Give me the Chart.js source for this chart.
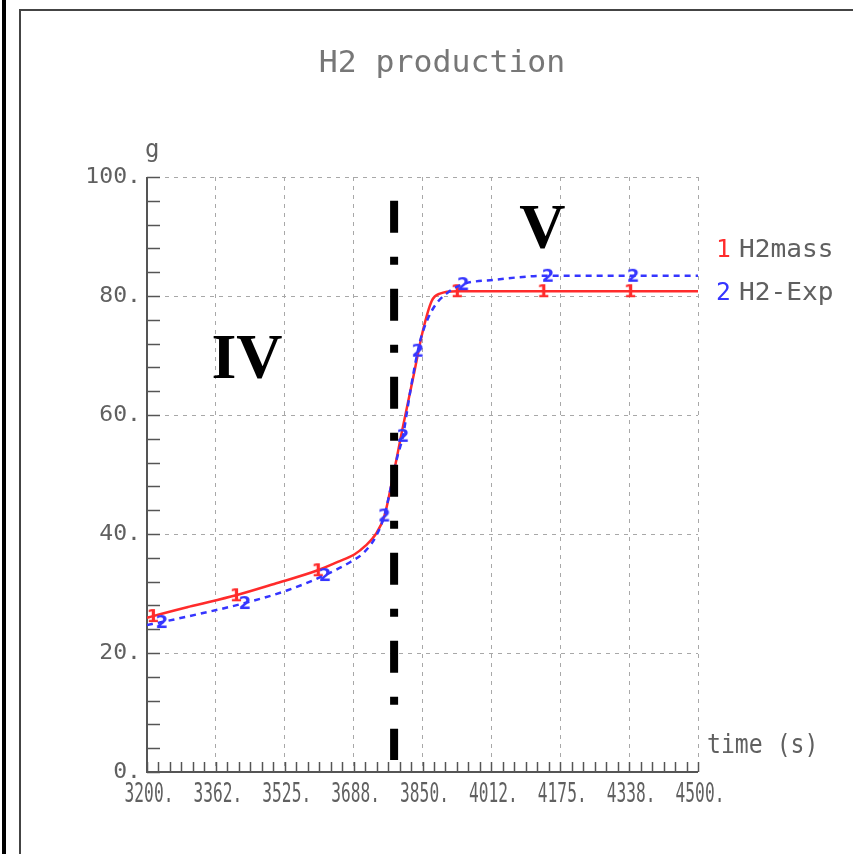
<!DOCTYPE html>
<html>
<head>
<meta charset="utf-8">
<script src="https://cdn.jsdelivr.net/npm/chart.js@4/dist/chart.umd.min.js"></script>
<style>
html,body{margin:0;padding:0;background:#fff;}
#wrap{width:853px;height:854px;position:relative;}
</style>
</head>
<body>
<div id="wrap"><canvas id="c" width="853" height="854"></canvas></div>
<script>
// ---- data ----
const chartTitle = "H2 production";
const yUnit = "g";
const xAxisLabel = "time (s)";
const seriesNames = ["H2mass", "H2-Exp"];
const seriesMarks = ["1", "2"];

const xTickLabels = ["3200.", "3362.", "3525.", "3688.", "3850.", "4012.", "4175.", "4338.", "4500."];
const yTickLabels = ["0.", "20.", "40.", "60.", "80.", "100."];

// H2mass (red, solid)
const massTime  = [3200, 3214, 3300, 3410, 3500, 3603, 3650, 3690, 3715, 3740, 3760, 3780, 3802, 3828, 3851, 3872, 3891, 3931, 4000, 4135, 4340, 4500];
const massValue = [25.9, 26.2, 27.8, 29.7, 31.6, 33.9, 35.3, 36.6, 38.0, 40.0, 43.0, 49.5, 57.4, 66.3, 74.2, 79.2, 80.4, 80.8, 80.8, 80.8, 80.8, 80.8];
const massMarkIdx = [1, 3, 5, 17, 19, 20];

// H2-Exp (blue, dashed)
const expTime  = [3200, 3235, 3300, 3431, 3530, 3620, 3680, 3712, 3740, 3760, 3790, 3804, 3820, 3839, 3849, 3875, 3910, 3946, 4016, 4146, 4347, 4500];
const expValue = [24.7, 25.2, 26.2, 28.4, 30.5, 33.1, 35.3, 36.9, 39.6, 43.1, 52.8, 56.5, 63.5, 70.8, 73.6, 77.9, 80.6, 82.0, 82.7, 83.4, 83.4, 83.4];
const expMarkIdx = [1, 3, 5, 9, 11, 13, 17, 19, 20];

// phase boundary and phase labels
const boundaryTime = [3783, 3783];
const boundaryValue = [96, 2];
const phaseNames = ["IV", "V"];
const phaseTime = [3436, 4133];
const phaseValue = [66.3, 88.1];

// ---- helpers ----
function pts(t, v){ return t.map((x,i)=>({x:x, y:v[i]})); }
function markImage(txt, color){
  const cv = document.createElement('canvas');
  cv.width = 16; cv.height = 20;
  const c = cv.getContext('2d');
  c.font = 'bold 18px "DejaVu Sans"';
  c.fillStyle = color;
  c.textAlign = 'center';
  c.textBaseline = 'middle';
  c.fillText(txt, 8, 11);
  return cv;
}
const RED = '#ff2b2b', BLUE = '#3535ff';
const redMark = markImage(seriesMarks[0], RED);
const blueMark = markImage(seriesMarks[1], BLUE);

function drawText(ctx, text, x, y, fs, sx, align, color, family, weight){
  ctx.save();
  ctx.translate(x, y);
  ctx.scale(sx, 1);
  ctx.font = (weight ? weight + ' ' : '') + fs + 'px ' + (family || '"DejaVu Sans Mono"');
  ctx.fillStyle = color;
  ctx.textAlign = align;
  ctx.textBaseline = 'alphabetic';
  ctx.fillText(text, 0, 0);
  ctx.restore();
}

const decor = {
  id: 'decor',
  beforeDraw(chart){
    const ctx = chart.ctx;
    ctx.save();
    ctx.fillStyle = '#fff';
    ctx.fillRect(0,0,chart.width,chart.height);
    ctx.fillStyle = '#000';
    ctx.fillRect(2,0,4,chart.height);
    ctx.strokeStyle = '#444';
    ctx.lineWidth = 2;
    ctx.beginPath();
    ctx.moveTo(20, chart.height);
    ctx.lineTo(20, 10);
    ctx.lineTo(chart.width, 10);
    ctx.stroke();
    ctx.restore();
  },
  beforeDatasetsDraw(chart){
    const ctx = chart.ctx, xs = chart.scales.x, ys = chart.scales.y, a = chart.chartArea;
    ctx.save();
    ctx.strokeStyle = '#555';
    ctx.lineWidth = 1.5;
    for (let v = 0; v <= 100; v += 4){
      const py = Math.round(ys.getPixelForValue(v)) + 0.5;
      ctx.beginPath(); ctx.moveTo(a.left, py); ctx.lineTo(a.left + 13, py); ctx.stroke();
    }
    const st = 162.5/6;
    for (let k = 0; k <= 48; k++){
      const px = Math.round(xs.getPixelForValue(3200 + k*st)) + 0.5;
      ctx.beginPath(); ctx.moveTo(px, a.bottom); ctx.lineTo(px, a.bottom - 10); ctx.stroke();
    }
    ctx.lineWidth = 2;
    ctx.beginPath();
    ctx.moveTo(a.left, a.top); ctx.lineTo(a.left, a.bottom); ctx.lineTo(a.right, a.bottom);
    ctx.stroke();
    ctx.restore();
  },
  afterDraw(chart){
    const ctx = chart.ctx, xs = chart.scales.x, ys = chart.scales.y, a = chart.chartArea;
    drawText(ctx, chartTitle, 442, 72, 30, 1.05, 'center', '#777');
    drawText(ctx, yUnit, 145, 157, 24, 1.0, 'left', '#606060');
    drawText(ctx, xAxisLabel, 707, 753, 26, 0.89, 'left', '#606060');
    xs.ticks.forEach((t,i)=>{
      const px = xs.getPixelForValue(t.value);
      drawText(ctx, xTickLabels[i], px + 2, 802, 27, 0.6, 'center', '#606060');
    });
    ys.ticks.forEach((t,i)=>{
      const py = ys.getPixelForValue(t.value);
      drawText(ctx, yTickLabels[i], a.left - 6, py + 6, 21, 1.1, 'right', '#606060');
    });
    const lx = 716, ly = [257, 300], cols = [RED, BLUE];
    seriesNames.forEach((n,i)=>{
      drawText(ctx, seriesMarks[i], lx, ly[i], 24.7, 1.0, 'left', cols[i]);
      drawText(ctx, n, lx + 23, ly[i], 24.7, 1.06, 'left', '#606060');
    });
    phaseNames.forEach((n,i)=>{
      const px = xs.getPixelForValue(phaseTime[i]);
      const py = ys.getPixelForValue(phaseValue[i]);
      drawText(ctx, n, px, py, 64, 1.0, 'center', '#000', '"Liberation Serif"', 'bold');
    });
  }
};

new Chart(document.getElementById('c'), {
  type: 'line',
  data: {
    datasets: [
      {
        label: seriesNames[0],
        data: pts(massTime, massValue),
        borderColor: RED, backgroundColor: RED,
        borderWidth: 2.5,
        cubicInterpolationMode: 'monotone',
        pointStyle: ctx => massMarkIdx.includes(ctx.dataIndex) ? redMark : false,
        pointRadius: ctx => massMarkIdx.includes(ctx.dataIndex) ? 8 : 0,
        order: 2
      },
      {
        label: seriesNames[1],
        data: pts(expTime, expValue),
        borderColor: BLUE, backgroundColor: BLUE,
        borderWidth: 2.5,
        borderDash: [6, 5],
        cubicInterpolationMode: 'monotone',
        pointStyle: ctx => expMarkIdx.includes(ctx.dataIndex) ? blueMark : false,
        pointRadius: ctx => expMarkIdx.includes(ctx.dataIndex) ? 8 : 0,
        order: 1
      },
      {
        label: 'boundary',
        data: pts(boundaryTime, boundaryValue),
        borderColor: '#000',
        borderWidth: 8,
        borderDash: [32, 24, 8, 24],
        borderCapStyle: 'butt',
        pointRadius: 0,
        order: 0
      }
    ]
  },
  options: {
    responsive: false,
    animation: false,
    layout: { padding: { left: 147, right: 155, top: 177, bottom: 82 } },
    plugins: { legend: { display: false }, title: { display: false }, tooltip: { enabled: false } },
    scales: {
      x: {
        type: 'linear', min: 3200, max: 4500,
        ticks: { stepSize: 162.5, display: false, callback: (v,i)=>xTickLabels[i] },
        grid: { color: '#a8a8a8', lineWidth: 1, drawTicks: false },
        border: { display: false, dash: [4, 5] },
        afterFit: s => { s.height = 0; }
      },
      y: {
        type: 'linear', min: 0, max: 100,
        ticks: { stepSize: 20, display: false, callback: (v,i)=>yTickLabels[i] },
        grid: { color: '#a8a8a8', lineWidth: 1, drawTicks: false },
        border: { display: false, dash: [4, 5] },
        afterFit: s => { s.width = 0; }
      }
    }
  },
  plugins: [decor]
});
</script>
</body>
</html>
